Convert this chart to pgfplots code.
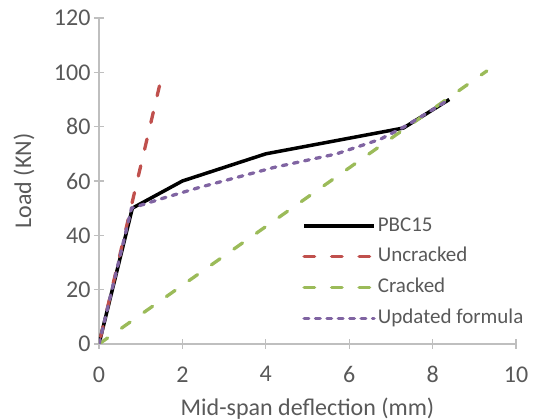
\documentclass[border=0pt]{standalone}
\usepackage{pgfplots}
\pgfplotsset{compat=1.18}
\usepackage{fontspec}
\setmainfont{Carlito}

\definecolor{axgray}{HTML}{BFBFBF}
\definecolor{txtgray}{HTML}{595959}
\definecolor{ucred}{HTML}{C0504D}
\definecolor{crgreen}{HTML}{9BBB59}
\definecolor{upurple}{HTML}{8064A2}

\begin{document}
\begin{tikzpicture}
\useasboundingbox (-99pt,-76pt) rectangle (434pt,344pt);
\begin{axis}[
    scale only axis,
    width=417pt, height=326pt,
    xmin=0, xmax=10, ymin=0, ymax=120,
    xtick={0,2,...,10}, ytick={0,20,...,120},
    axis x line*=bottom, axis y line*=left,
    axis line style={axgray, line width=1.3pt, -},
    tick style={axgray, line width=1.3pt},
    tick align=center, major tick length=10pt,
    /pgf/number format/assume math mode=true,
    tick label style={font=\fontsize{24}{28}\selectfont, text=txtgray},
    xticklabel shift=14pt,
    yticklabel={\pgfmathprintnumber{\tick}\hspace{10pt}},
    xlabel={Mid-span deflection (mm)},
    ylabel={Load (KN)},
    label style={font=\fontsize{24}{28}\selectfont, text=txtgray},
    xlabel style={at={(axis description cs:0.5,-0.197)}, anchor=center},
    ylabel style={at={(axis description cs:-0.18,0.5)}, anchor=center},
    legend image code/.code={\draw[#1] (0pt,0pt) -- (70pt,0pt);},
    legend style={draw=none, fill=none,
        at={(axis description cs:0.48,0.405)}, anchor=north west,
        font=\fontsize{21}{25}\selectfont, text=txtgray,
        row sep=7.3pt,
        nodes={inner sep=2pt, text height=15pt, text depth=4.5pt, anchor=west}},
    legend cell align=left,
]
\addplot[black, line width=3.5pt, line join=round] coordinates {
    (0,0) (0.8,50) (2,60) (4,70) (7.3,79.5) (8.4,90)
};
\addlegendentry{PBC15}
\addplot[ucred, line width=3.3pt, line cap=round, dash pattern=on 10.5pt off 17pt, dash phase=20pt, forget plot] coordinates {
    (0,0) (1.45,95)
};
\addlegendimage{ucred, line width=3.3pt, line cap=round, dash pattern=on 10.5pt off 17pt}
\addlegendentry{Uncracked}
\addplot[crgreen, line width=3.3pt, line cap=round, dash pattern=on 10.5pt off 17pt] coordinates {
    (0,0) (9.3,100.5)
};
\addlegendentry{Cracked}
\addplot[upurple, line width=3.3pt, line cap=round, dash pattern=on 4.7pt off 6.7pt] coordinates {
    (0,0) (0.78,50) (1.5,53.5) (2.4,57.6) (4.2,65) (5.7,70) (6.75,75.4) (7.35,80.2) (8.4,90)
};
\addlegendentry{Updated formula}
\end{axis}
\end{tikzpicture}
\end{document}
